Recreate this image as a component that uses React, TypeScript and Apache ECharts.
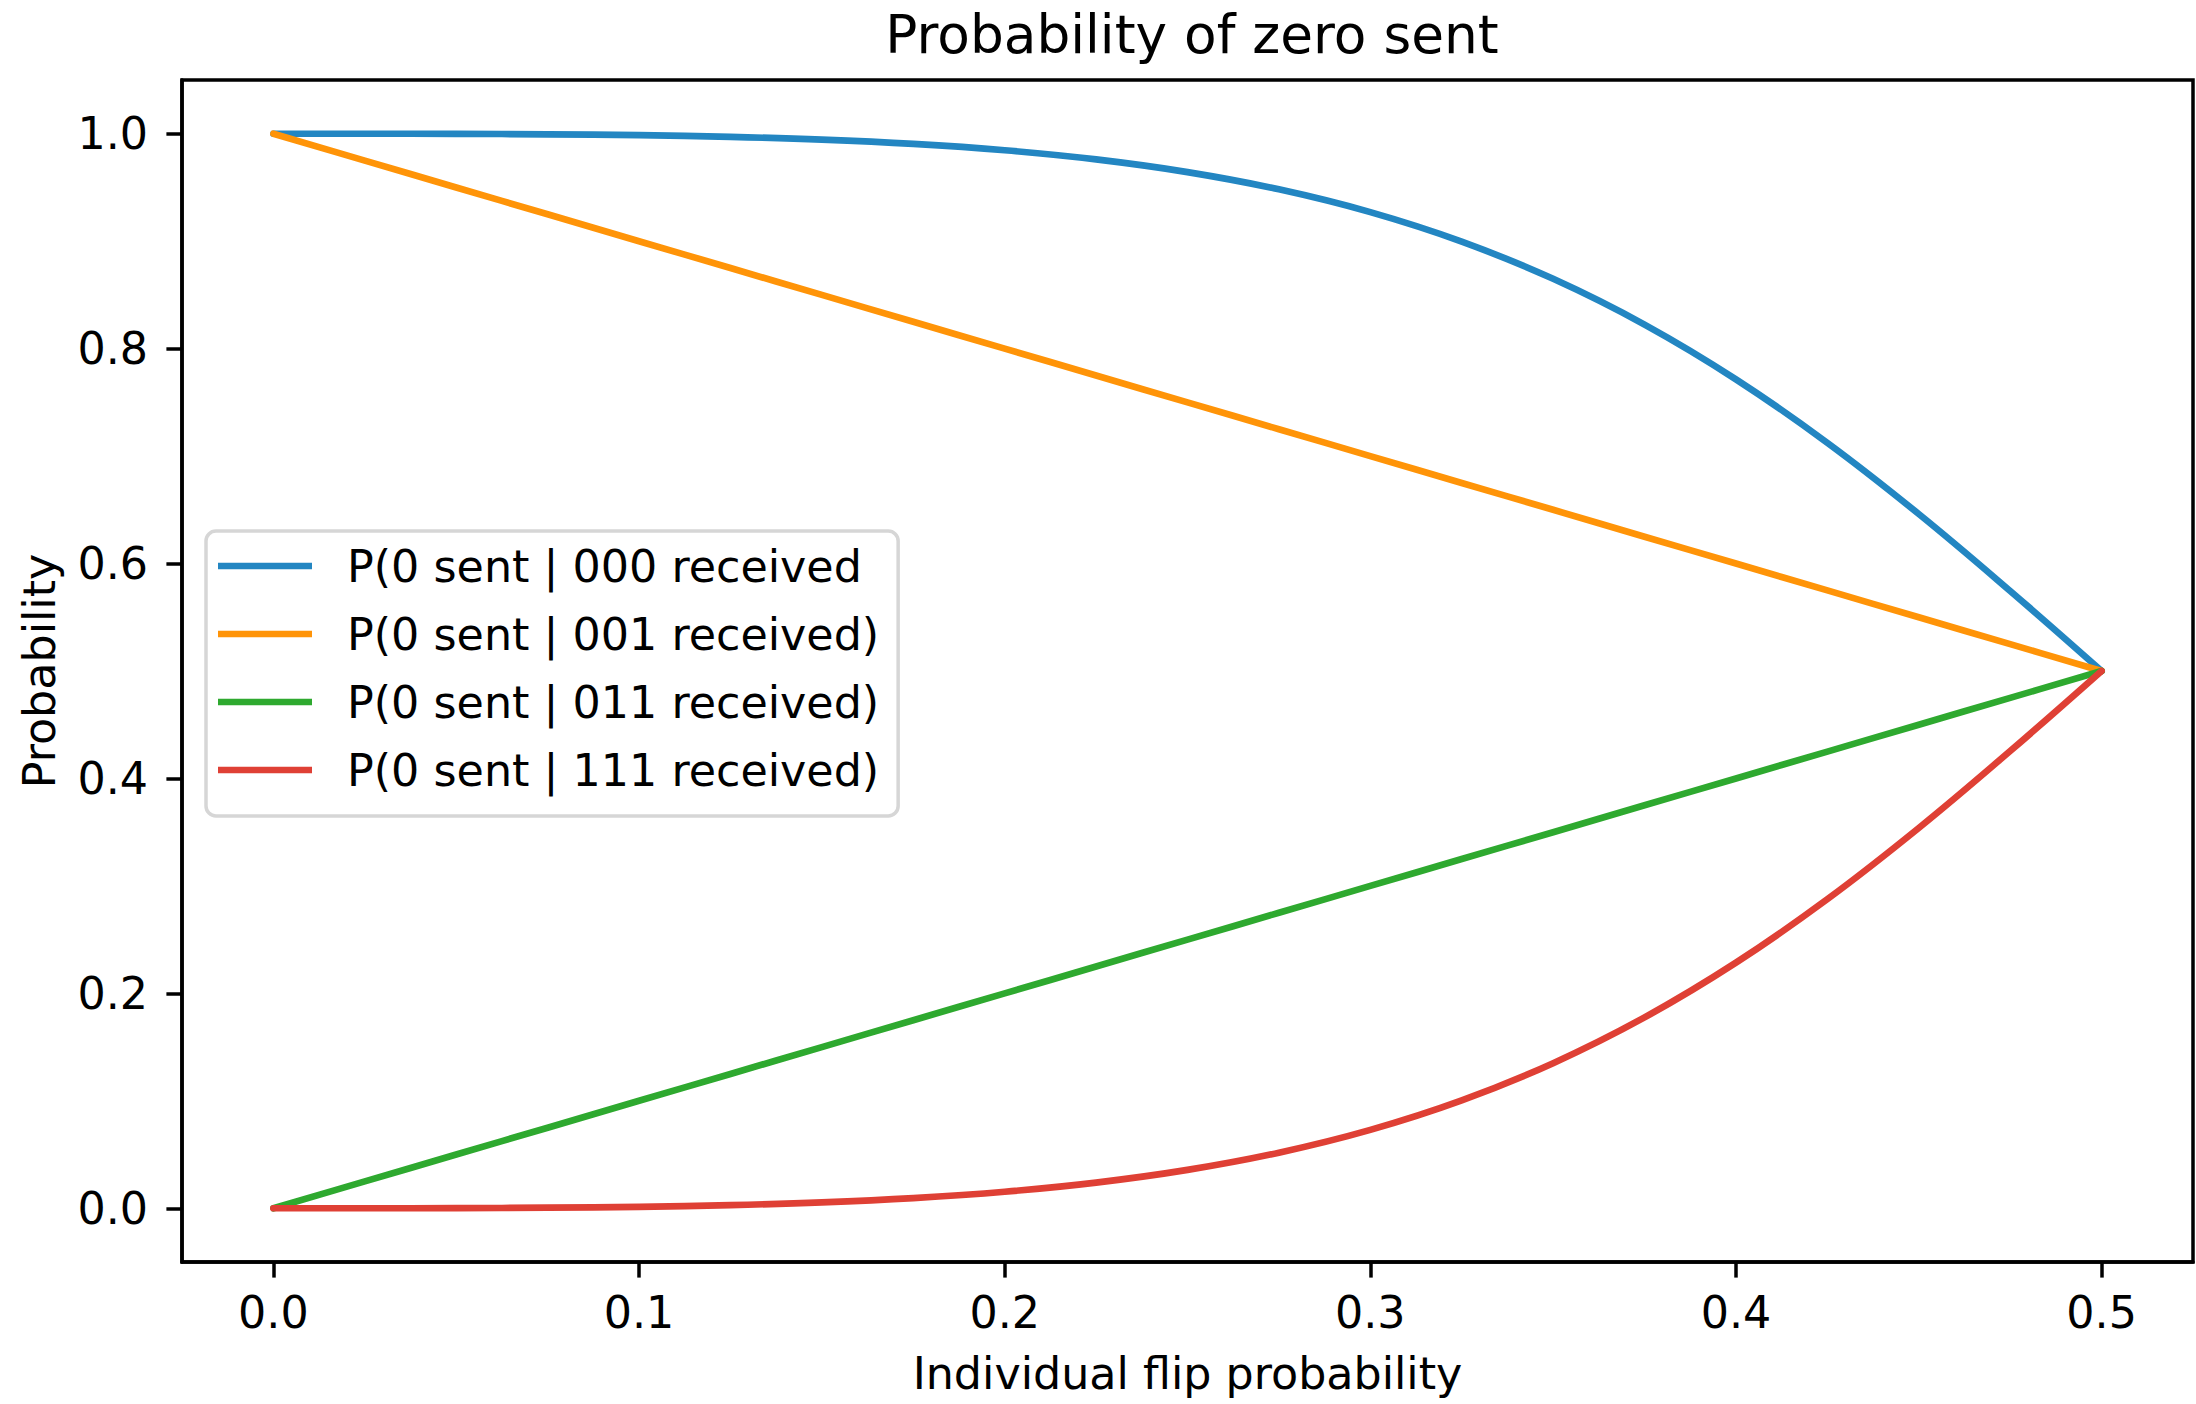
import React, { useEffect, useRef } from "react";
import * as echarts from "echarts";

const flipProb = [0, 0.025, 0.05, 0.075, 0.1, 0.125, 0.15, 0.175, 0.2, 0.225, 0.25, 0.275, 0.3, 0.325, 0.35, 0.375, 0.4, 0.425, 0.45, 0.475, 0.5];
const p000 = [1, 0.99998, 0.99985, 0.99947, 0.99863, 0.99709, 0.99453, 0.99055, 0.98462, 0.97611, 0.96429, 0.94825, 0.92703, 0.89959, 0.86496, 0.82237, 0.77143, 0.71235, 0.64612, 0.5745, 0.5];
const p001 = [1, 0.975, 0.95, 0.925, 0.9, 0.875, 0.85, 0.825, 0.8, 0.775, 0.75, 0.725, 0.7, 0.675, 0.65, 0.625, 0.6, 0.575, 0.55, 0.525, 0.5];
const p011 = [0, 0.025, 0.05, 0.075, 0.1, 0.125, 0.15, 0.175, 0.2, 0.225, 0.25, 0.275, 0.3, 0.325, 0.35, 0.375, 0.4, 0.425, 0.45, 0.475, 0.5];
const p111 = [0, 0.00002, 0.00015, 0.00053, 0.00137, 0.00291, 0.00547, 0.00945, 0.01538, 0.02389, 0.03571, 0.05175, 0.07297, 0.10041, 0.13504, 0.17763, 0.22857, 0.28765, 0.35388, 0.4255, 0.5];

const seriesNames = [
  "P(0 sent | 000 received",
  "P(0 sent | 001 received)",
  "P(0 sent | 011 received)",
  "P(0 sent | 111 received)",
];
const seriesColors = ["#2386c2", "#ff9408", "#2ea92f", "#df4035"];
const xTicks = [0, 0.1, 0.2, 0.3, 0.4, 0.5];
const yTicks = [0, 0.2, 0.4, 0.6, 0.8, 1.0];

const FONT = "DejaVu Sans";
const FS = 44.4;

export default function App() {
  const ref = useRef<HTMLDivElement>(null);
  useEffect(() => {
    document.body.style.margin = "0";
    const chart = echarts.init(ref.current!, null, { renderer: "svg" });
    const allData = [p000, p001, p011, p111];
    chart.setOption({
      animation: false,
      backgroundColor: "#ffffff",
      title: {
        text: "Probability of zero sent",
        left: 1187,
        textAlign: "center",
        top: 3,
        textStyle: { fontFamily: FONT, fontSize: 53.3, fontWeight: "normal", color: "#000" },
      },
      grid: {
        left: 182,
        top: 80,
        width: 2011,
        height: 1182,
        show: true,
        borderColor: "#000",
        borderWidth: 3.5,
        backgroundColor: "#fff",
      },
      legend: {
        orient: "vertical",
        left: 206,
        top: 531,
        data: seriesNames.map((n) => ({ name: n, icon: "rect" })),
        itemWidth: 94,
        itemHeight: 6.7,
        itemGap: 20,
        padding: [11, 19, 22, 12],
        backgroundColor: "#fff",
        borderColor: "#d6d6d6",
        borderWidth: 3.5,
        borderRadius: 10,
        textStyle: {
          fontFamily: FONT,
          fontSize: FS,
          color: "#000",
          lineHeight: 48,
          padding: [0, 0, 0, 30],
        },
      },
      xAxis: {
        type: "value",
        min: -0.025,
        max: 0.525,
        name: "Individual flip probability",
        nameLocation: "middle",
        nameGap: 89,
        nameTextStyle: { fontFamily: FONT, fontSize: FS, color: "#000" },
        axisLine: { show: true, onZero: false, lineStyle: { color: "#000", width: 3.5 } },
        axisTick: { show: true, length: 15.6, lineStyle: { color: "#000", width: 3.5 }, customValues: xTicks },
        axisLabel: {
          fontFamily: FONT,
          fontSize: FS,
          color: "#000",
          margin: 28,
          customValues: xTicks,
          formatter: (v: number) => v.toFixed(1),
        },
        splitLine: { show: false },
      },
      yAxis: {
        type: "value",
        min: -0.05,
        max: 1.05,
        name: "Probability",
        nameLocation: "middle",
        nameGap: 121,
        nameTextStyle: { fontFamily: FONT, fontSize: FS, color: "#000" },
        axisLine: { show: true, onZero: false, lineStyle: { color: "#000", width: 3.5 } },
        axisTick: { show: true, length: 15.6, lineStyle: { color: "#000", width: 3.5 }, customValues: yTicks },
        axisLabel: {
          fontFamily: FONT,
          fontSize: FS,
          color: "#000",
          margin: 34,
          customValues: yTicks,
          formatter: (v: number) => v.toFixed(1),
        },
        splitLine: { show: false },
      },
      series: seriesNames.map((name, i) => ({
        name,
        type: "line",
        data: flipProb.map((x, j) => [x, allData[i][j]]),
        symbol: "none",
        smooth: 0.4,
        color: seriesColors[i],
        itemStyle: { color: seriesColors[i] },
        lineStyle: { color: seriesColors[i], width: 6.67, cap: "round", join: "round" },
        z: 2 + i,
      })),
    });
    return () => chart.dispose();
  }, []);
  return <div ref={ref} style={{ width: 2196, height: 1404 }} />;
}
